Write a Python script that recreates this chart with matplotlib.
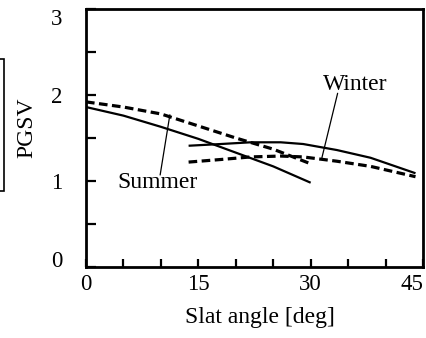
import matplotlib
matplotlib.use("Agg")
import matplotlib.pyplot as plt
from matplotlib.patches import Rectangle
from matplotlib.ticker import MultipleLocator, FixedLocator

plt.rcParams['font.family'] = ['Liberation Serif', 'DejaVu Serif']

# PGSV vs slat angle
summer_angle = [0, 5, 10, 15, 20, 25, 30]
summer_solid = [1.86, 1.76, 1.63, 1.49, 1.33, 1.17, 0.98]
summer_dashed = [1.92, 1.86, 1.78, 1.64, 1.50, 1.37, 1.20]

winter_angle = [13.7, 18, 22, 26, 29, 33.5, 38, 44]
winter_solid = [1.41, 1.43, 1.45, 1.45, 1.43, 1.36, 1.27, 1.09]
winter_dashed = [1.22, 1.25, 1.28, 1.29, 1.28, 1.23, 1.17, 1.05]

x_ticklabels = [0, 15, 30, 45]
y_ticklabels = [0, 1, 2, 3]

W, H = 427, 338
fig = plt.figure(figsize=(W / 100, H / 100), dpi=100)
ax = fig.add_axes([86 / W, 1 - 267 / H, (423 - 86) / W, (267 - 9) / H])

ax.plot(summer_angle, summer_solid, color='black', lw=1.6, solid_capstyle='butt')
ax.plot(summer_angle, summer_dashed, color='black', lw=2.3, ls=(0, (2.7, 1.4)))
ax.plot(winter_angle, winter_solid, color='black', lw=1.6, solid_capstyle='butt')
ax.plot(winter_angle, winter_dashed, color='black', lw=2.3, ls=(0, (2.7, 1.4)))

# labels and their leader lines
ax.text(9.6, 0.98, 'Summer', fontsize=17, ha='center', va='center')
ax.annotate('', xy=(11.2, 1.77), xytext=(9.9, 1.07),
            arrowprops=dict(arrowstyle='-', color='black', lw=0.9,
                            shrinkA=0, shrinkB=0))
ax.text(35.9, 2.12, 'Winter', fontsize=17, ha='center', va='center')
ax.annotate('', xy=(31.5, 1.27), xytext=(33.6, 2.02),
            arrowprops=dict(arrowstyle='-', color='black', lw=0.9,
                            shrinkA=0, shrinkB=0))

ax.set_xlim(0, 45)
ax.set_ylim(0, 3)
ax.xaxis.set_major_locator(FixedLocator(x_ticklabels))
ax.xaxis.set_minor_locator(MultipleLocator(5))
ax.yaxis.set_major_locator(FixedLocator(y_ticklabels))
ax.yaxis.set_minor_locator(MultipleLocator(0.5))
ax.tick_params(which='both', direction='in', width=1.6, top=False, right=False)
ax.tick_params(axis='y', which='both', length=7, labelsize=16.5, pad=17)
ax.tick_params(axis='x', which='both', length=6, labelsize=16.5, pad=5)
for s in ax.spines.values():
    s.set_linewidth(2.0)

# keep end labels inside the frame
fig.canvas.draw()
xlabels = ax.get_xticklabels()
xlabels[-1].set_ha('right')
ylabels = ax.get_yticklabels()
ylabels[0].set_va('baseline')
ylabels[-1].set_va('top')

fig.text(260 / W, 1 - 318 / H, 'Slat angle [deg]', fontsize=17, ha='center', va='center')
fig.text(27 / W, 1 - 128 / H, 'PGSV', fontsize=17, ha='center', va='center', rotation=90)

# partial frame on the left edge
fig.add_artist(Rectangle((-20 / W, 1 - 191 / H), 24 / W, 132 / H,
                         transform=fig.transFigure, fill=False, lw=1.2, ec='black'))

fig.savefig('out.png', dpi=100)
